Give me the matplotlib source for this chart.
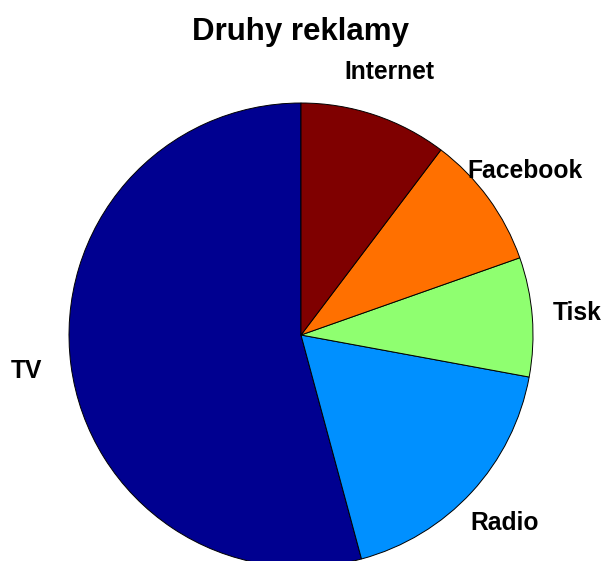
import matplotlib
matplotlib.use("Agg")
import matplotlib.pyplot as plt

labels = ["TV", "Radio", "Tisk", "Facebook", "Internet"]
values = [54.2, 17.9, 8.3, 9.3, 10.3]
colors = ["#000090", "#0090ff", "#8fff70", "#ff7000", "#7f0000"]

plt.rcParams['font.family'] = ['Liberation Sans', 'DejaVu Sans']

fig = plt.figure(figsize=(6.04, 5.61), dpi=100)
ax = fig.add_axes([69/604, -6/561, 464/604, 464/561])
wedges, texts = ax.pie(values, labels=labels, colors=colors, startangle=90,
                       counterclock=True, labeldistance=1.195,
                       wedgeprops=dict(edgecolor="black", linewidth=0.7),
                       textprops=dict(fontsize=17.7, fontweight="bold"))
for t in texts:
    t.set_ha("center")
    t.set_va("center")
ax.set_xlim(-1, 1)
ax.set_ylim(-1, 1)
ax.set_aspect("equal")
ax.axis("off")
fig.text(301/604, 1 - 32/561, "Druhy reklamy", ha="center", va="center",
         fontsize=22.5, fontweight="bold")
fig.savefig("out.png", dpi=100)
